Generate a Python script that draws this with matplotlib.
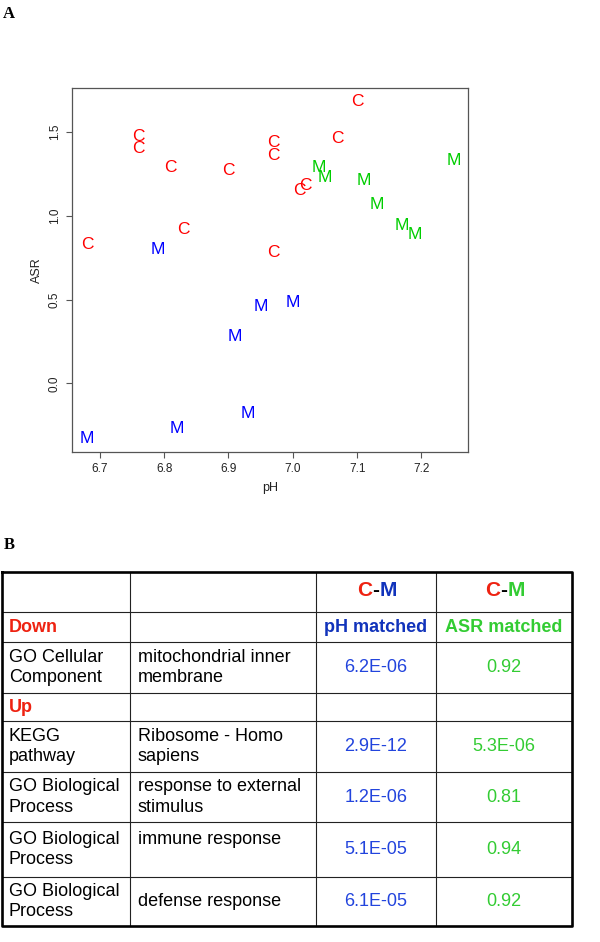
import numpy as np
import matplotlib
matplotlib.use("Agg")
import matplotlib.pyplot as plt

plt.rcParams['font.family'] = ['Liberation Sans', 'DejaVu Sans']

# panel A: samples labelled C (control) and M (matched)
c_ph = [6.68, 6.76, 6.76, 6.81, 6.90, 6.83, 6.97, 6.97, 6.97, 7.01, 7.02, 7.07, 7.10]
c_asr = [0.83, 1.47, 1.40, 1.29, 1.27, 0.92, 1.44, 1.36, 0.78, 1.15, 1.18, 1.46, 1.68]
m_ph_blue = [6.79, 6.95, 7.00, 6.91, 6.93, 6.82, 6.68]
m_asr_blue = [0.80, 0.46, 0.48, 0.28, -0.18, -0.27, -0.33]
m_ph_green = [7.04, 7.05, 7.11, 7.13, 7.17, 7.19, 7.25]
m_asr_green = [1.29, 1.23, 1.21, 1.07, 0.94, 0.89, 1.33]

x_ticks = [6.7, 6.8, 6.9, 7.0, 7.1, 7.2]
y_ticks = [0.0, 0.5, 1.0, 1.5]

# panel B: enrichment table
groups = ["Down", "Up"]
categories = ["GO Cellular\nComponent", "KEGG\npathway", "GO Biological\nProcess",
              "GO Biological\nProcess", "GO Biological\nProcess"]
terms = ["mitochondrial inner\nmembrane", "Ribosome - Homo\nsapiens",
         "response to external\nstimulus", "immune response\n ", "defense response"]
ph_matched = ["6.2E-06", "2.9E-12", "1.2E-06", "5.1E-05", "6.1E-05"]
asr_matched = ["0.92", "5.3E-06", "0.81", "0.94", "0.92"]

W, H = 600, 942
fig = plt.figure(figsize=(W / 100, H / 100), dpi=100)

def fx(px):
    return px / W

def fy(py):
    return 1 - py / H

# ---- scatter ----
ax_l, ax_r, ax_t, ax_b = 72.3, 468.3, 88.3, 452.3
ax = fig.add_axes([fx(ax_l), fy(ax_b), fx(ax_r - ax_l), (ax_b - ax_t) / H])

for x, y in zip(c_ph, c_asr):
    ax.text(x, y, "C", color="#ff0000", fontsize=12.5, ha="center", va="center")
for x, y in zip(m_ph_blue, m_asr_blue):
    ax.text(x, y, "M", color="#0000ff", fontsize=12.5, ha="center", va="center")
for x, y in zip(m_ph_green, m_asr_green):
    ax.text(x, y, "M", color="#00cd00", fontsize=12.5, ha="center", va="center")

all_x = np.array(c_ph + m_ph_blue + m_ph_green)
all_y = np.array(c_asr + m_asr_blue + m_asr_green)
rx = all_x.max() - all_x.min()
ry = all_y.max() - all_y.min()
ax.set_xlim(all_x.min() - 0.04 * rx, all_x.max() + 0.04 * rx)
ax.set_ylim(all_y.min() - 0.04 * ry, all_y.max() + 0.04 * ry)

ax.set_xticks(x_ticks)
ax.set_xticklabels([f"{t:.1f}" for t in x_ticks])
ax.set_yticks(y_ticks)
ax.set_yticklabels([f"{t:.1f}" for t in y_ticks], rotation=90, va="center")
ax.tick_params(length=4.3, width=0.8, color="#555555", labelsize=8.5,
               labelcolor="#222222", pad=3.6)
ax.tick_params(axis="y", pad=4)
for s in ax.spines.values():
    s.set_color("#555555")
    s.set_linewidth(0.9)

ax.set_xlabel("pH", fontsize=9, color="#222222")
ax.set_ylabel("ASR", fontsize=9, color="#222222")
ax.xaxis.set_label_coords(0.5, -(488 - ax_b) / (ax_b - ax_t))
ax.yaxis.set_label_coords(-(ax_l - 37) / (ax_r - ax_l), 0.5)
ax.xaxis.label.set_va("center")
ax.yaxis.label.set_va("center")

fig.text(fx(3), fy(14), "A", family="Liberation Serif", weight="bold",
         fontsize=12, va="center", ha="left")
fig.text(fx(4), fy(545), "B", family="Liberation Serif", weight="bold",
         fontsize=12, va="center", ha="left")

# ---- table ----
tb = fig.add_axes([0, 0, 1, 1])
tb.set_xlim(0, W)
tb.set_ylim(H, 0)
tb.axis("off")

cols = [2, 130, 316, 436, 572]
rows = [572, 612, 642, 693, 721, 772, 822, 877, 926]

red = "#ee2211"
blue_h = "#1133bb"
blue_v = "#2244dd"
green = "#33cc33"

for y in rows[1:-1]:
    tb.plot([cols[0], cols[-1]], [y, y], color="#222222", lw=0.8)
for x in cols[1:-1]:
    tb.plot([x, x], [rows[0], rows[-1]], color="#222222", lw=0.8)
tb.plot([cols[0], cols[-1], cols[-1], cols[0], cols[0]],
        [rows[0], rows[0], rows[-1], rows[-1], rows[0]], color="#000000", lw=1.9)

def mid(a, i):
    return (a[i] + a[i + 1]) / 2

# header C-M
for ci, mcol in [(2, blue_h), (3, green)]:
    cx = mid(cols, ci)
    cy = mid(rows, 0) - 2
    tb.text(cx, cy, "-", fontsize=15, weight="bold", ha="center", va="center")
    tb.text(cx - 3.5, cy, "C", fontsize=15, weight="bold", color=red, ha="right", va="center")
    tb.text(cx + 3.5, cy, "M", fontsize=15, weight="bold", color=mcol, ha="left", va="center")

tb.text(mid(cols, 2), mid(rows, 1), "pH matched", fontsize=13, weight="bold",
        color=blue_h, ha="center", va="center")
tb.text(mid(cols, 3), mid(rows, 1), "ASR matched", fontsize=13, weight="bold",
        color=green, ha="center", va="center")

group_rows = {0: 1, 1: 3}
for g, label in enumerate(groups):
    tb.text(cols[0] + 7, mid(rows, group_rows[g]), label, fontsize=13,
            weight="bold", color=red, ha="left", va="center")

data_rows = [2, 4, 5, 6, 7]
for i, r in enumerate(data_rows):
    cy = mid(rows, r)
    tb.text(cols[0] + 7, cy, categories[i], fontsize=13, ha="left", va="center",
            linespacing=1.3)
    tb.text(cols[1] + 7.5, cy, terms[i], fontsize=13, ha="left", va="center",
            linespacing=1.3)
    tb.text(mid(cols, 2), cy, ph_matched[i], fontsize=13, color=blue_v,
            ha="center", va="center")
    tb.text(mid(cols, 3), cy, asr_matched[i], fontsize=13, color=green,
            ha="center", va="center")

fig.savefig("out.png", dpi=100)
